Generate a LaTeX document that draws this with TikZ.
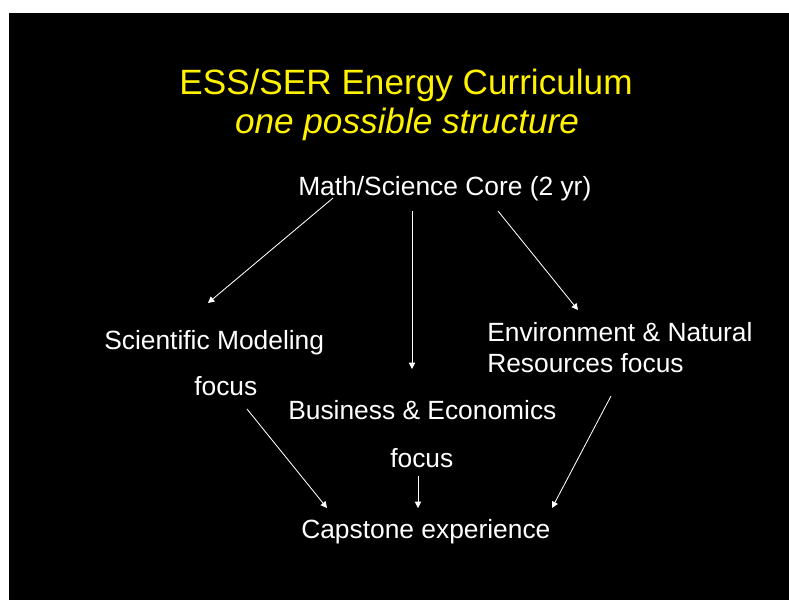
\documentclass[tikz,border=0pt]{standalone}
\usepackage{fontspec}
\setmainfont{Liberation Sans}
\usetikzlibrary{arrows.meta}
\begin{document}
\begin{tikzpicture}[x=0.025cm,y=-0.025cm,
  txt/.style={anchor=base west,inner sep=0pt,text=white,font=\fontsize{18.75}{22}\selectfont},
  ttl/.style={anchor=base,inner sep=0pt,text=yellow,font=\fontsize{25}{30}\selectfont},
  arr/.style={white,line width=0.6pt,-{Triangle[width=4.5pt,length=4.5pt]}}]
\fill[white](0,0)rectangle(789,600);
\fill[black](9,13)rectangle(789,600);
%
\node[ttl](title)at(406,94){ESS/SER Energy Curriculum};
\node[ttl,font=\fontsize{25}{30}\selectfont\itshape](sub)at(407,133){one possible structure};
%
\node[txt](core)at(298,195){Math/Science Core (2 yr)};
\node[txt](model)at(104,349){Scientific Modeling};
\node[txt](modelf)at(194,395){focus};
\node[txt](env)at(487,341){Environment \& Natural};
\node[txt](envf)at(487,372){Resources focus};
\node[txt](bus)at(288,419){Business \& Economics};
\node[txt](busf)at(390,467){focus};
\node[txt](cap)at(301,538){Capstone experience};
%
\coordinate(core-l)at(333,198);
\coordinate(core-m)at(412,211);
\coordinate(core-r)at(498,211);
\coordinate(model-t)at(208,303);
\coordinate(bus-t)at(412,369);
\coordinate(env-t)at(578,310);
\coordinate(model-b)at(247,409);
\coordinate(bus-b)at(418,476);
\coordinate(env-b)at(611,396);
\coordinate(cap-l)at(327,508);
\coordinate(cap-m)at(418,508);
\coordinate(cap-r)at(552,508);
%
\draw[arr](core-l)--(model-t);
\draw[arr](core-m)--(bus-t);
\draw[arr](core-r)--(env-t);
\draw[arr](model-b)--(cap-l);
\draw[arr](bus-b)--(cap-m);
\draw[arr](env-b)--(cap-r);
\end{tikzpicture}
\end{document}
